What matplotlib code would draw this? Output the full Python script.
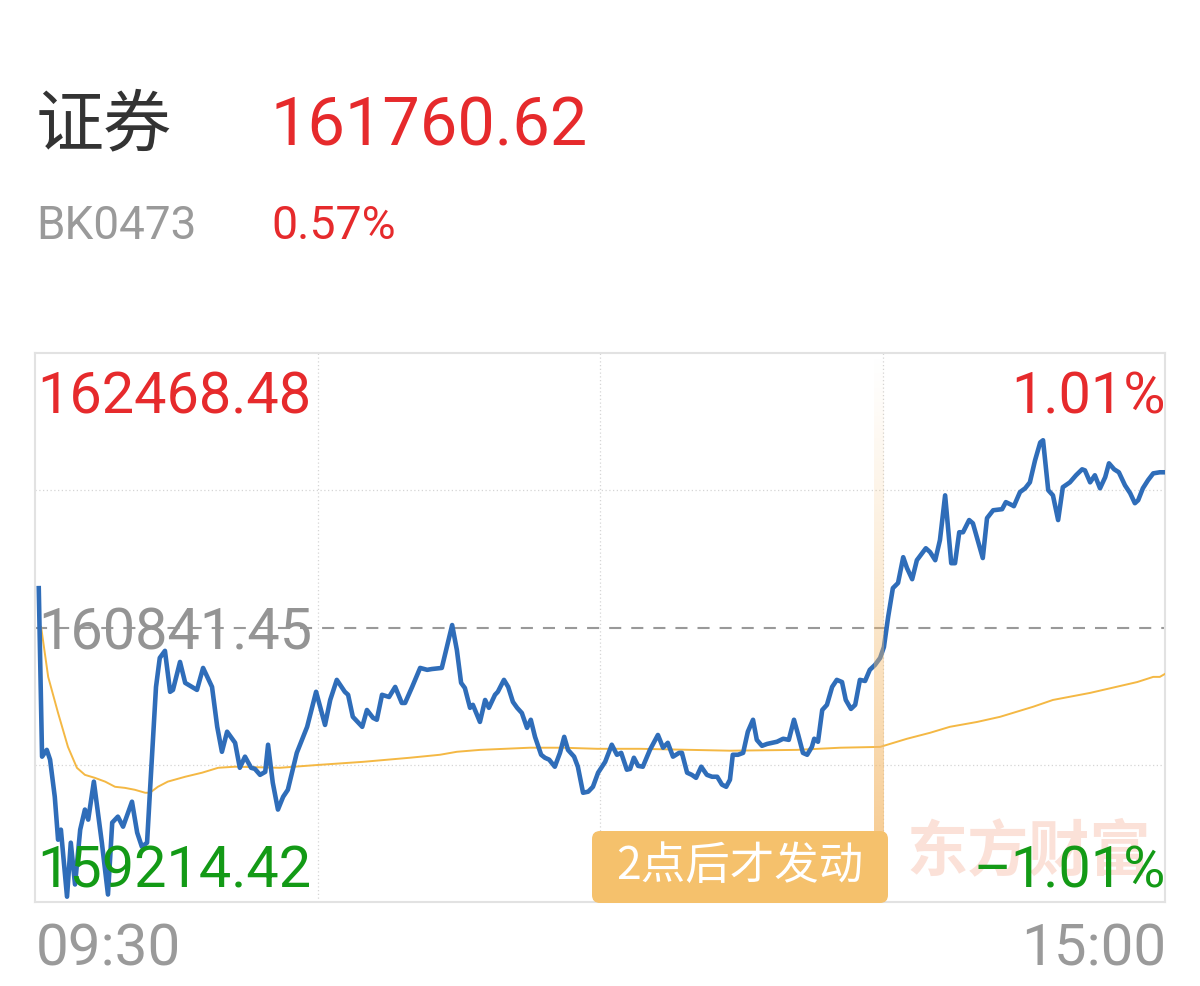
import numpy as np
import matplotlib
matplotlib.use("Agg")
import matplotlib.pyplot as plt
from matplotlib.patches import FancyBboxPatch
from matplotlib.colors import to_rgb

# ---------------- data ----------------
name = "证券"
code = "BK0473"
last_price = "161760.62"
change_pct = "0.57%"
prev_close = 160841.45
high_label = 162468.48
low_label = 159214.42
time_labels = ["09:30", "15:00"]
note_text = "2点后才发动"
watermark = "东方财富"

# minute index since 09:30 (0..240, lunch break removed) and % change vs prev close
price_min = [0.8, 1.5, 2.5, 3.2, 4.2, 4.9, 5.5, 6.8, 7.6, 8.5, 9.6, 10.6, 11.3, 12.5, 14.2, 15.5,
             16.4, 17.6, 18.7, 20.6, 21.7, 22.7, 23.8, 24.4, 25.7, 26.5, 27.6, 28.7, 29.3, 30.8,
             31.9, 34.4, 35.7, 37.6, 38.7, 39.7, 40.8, 42.5, 43.5, 44.6, 45.9, 46.7, 47.8, 48.9,
             49.5, 50.5, 51.6, 52.7, 53.7, 55.6, 57.8, 59.7, 61.6, 62.7, 64.1, 65.8, 66.5, 67.5,
             69.5, 70.5, 71.8, 72.6, 73.7, 75.2, 76.5, 77.9, 78.6, 80.1, 81.8, 83.3, 84.3, 86.4,
             88.6, 89.6, 90.5, 91.3, 92.4, 93.0, 94.5, 95.6, 96.4, 97.7, 98.3, 99.6, 100.5, 101.5,
             102.4, 103.4, 104.5, 105.3, 106.2, 107.5, 108.3, 109.2, 110.4, 111.5, 112.4, 113.2,
             114.5, 115.3, 116.4, 117.5, 118.5, 119.6, 121.1, 122.5, 123.6, 124.5, 125.7, 126.4,
             127.2, 128.1, 129.1, 130.6, 132.3, 133.4, 134.4, 135.5, 136.8, 137.4, 138.5, 139.5,
             140.4, 141.5, 142.7, 143.8, 144.9, 145.9, 146.8, 147.6, 148.2, 149.3, 150.4, 151.4,
             152.5, 153.3, 154.4, 155.5, 157.6, 158.9, 160.1, 161.2, 162.1, 163.1, 164.0, 165.0,
             165.5, 166.3, 167.2, 168.2, 169.3, 170.3, 171.4, 172.2, 173.3, 174.2, 175.2, 176.3,
             177.3, 178.4, 179.5, 180.3, 181.2, 182.2, 183.3, 184.4, 185.2, 186.3, 187.3, 189.2,
             190.1, 191.2, 192.2, 193.3, 194.6, 195.4, 196.3, 197.1, 198.4, 199.2, 201.3, 202.2,
             203.5, 205.4, 206.2, 207.5, 207.9, 209.2, 210.3, 211.3, 212.4, 213.5, 214.1, 215.2,
             216.2, 217.3, 218.3, 219.8, 221.1, 222.4, 223.0, 224.1, 225.1, 226.2, 227.3, 228.1,
             229.2, 230.2, 231.5, 232.6, 233.6, 234.3, 235.3, 236.4, 237.5, 238.9, 240.0]
price_pct = [0.145, -0.476, -0.451, -0.487, -0.624, -0.782, -0.745, -0.992, -0.793, -0.947, -0.745,
             -0.671, -0.708, -0.568, -0.793, -0.984, -0.719, -0.697, -0.734, -0.642, -0.756, -0.808,
             -0.793, -0.609, -0.219, -0.112, -0.086, -0.237, -0.230, -0.127, -0.204, -0.230, -0.149,
             -0.219, -0.366, -0.458, -0.384, -0.425, -0.517, -0.476, -0.517, -0.521, -0.543, -0.532,
             -0.432, -0.572, -0.671, -0.624, -0.598, -0.462, -0.366, -0.237, -0.359, -0.267, -0.193,
             -0.237, -0.248, -0.329, -0.366, -0.304, -0.333, -0.340, -0.248, -0.256, -0.219, -0.278,
             -0.278, -0.219, -0.149, -0.156, -0.153, -0.149, 0.009, -0.083, -0.204, -0.223, -0.296,
             -0.285, -0.348, -0.267, -0.296, -0.248, -0.237, -0.193, -0.219, -0.274, -0.296, -0.315,
             -0.370, -0.340, -0.403, -0.469, -0.480, -0.487, -0.513, -0.462, -0.403, -0.451, -0.476,
             -0.513, -0.609, -0.605, -0.587, -0.535, -0.495, -0.432, -0.469, -0.462, -0.524, -0.521,
             -0.480, -0.510, -0.513, -0.451, -0.396, -0.443, -0.425, -0.476, -0.462, -0.462, -0.535,
             -0.543, -0.554, -0.513, -0.543, -0.550, -0.550, -0.579, -0.587, -0.561, -0.469, -0.469,
             -0.462, -0.384, -0.340, -0.414, -0.436, -0.429, -0.421, -0.410, -0.414, -0.340, -0.396,
             -0.462, -0.469, -0.440, -0.410, -0.421, -0.304, -0.285, -0.219, -0.193, -0.201, -0.267,
             -0.300, -0.285, -0.193, -0.197, -0.156, -0.138, -0.112, -0.072, 0.039, 0.145, 0.164,
             0.259, 0.219, 0.178, 0.248, 0.292, 0.278, 0.248, 0.322, 0.487, 0.237, 0.237, 0.351,
             0.351, 0.396, 0.384, 0.256, 0.403, 0.432, 0.436, 0.462, 0.451, 0.447, 0.499, 0.513,
             0.535, 0.616, 0.682, 0.690, 0.506, 0.487, 0.396, 0.517, 0.535, 0.561, 0.583, 0.579,
             0.535, 0.561, 0.513, 0.554, 0.605, 0.583, 0.572, 0.524, 0.495, 0.458, 0.469, 0.513,
             0.543, 0.568, 0.572, 0.572]

avg_min = [1.3, 2.8, 4.9, 7.0, 8.9, 10.6, 12.7, 14.9, 17.0, 19.1, 21.2, 23.4, 24.4, 26.1, 28.2,
           31.9, 35.5, 38.9, 42.5, 52.0, 60.5, 69.7, 79.6, 86.0, 89.6, 94.5, 105.1, 112.1, 119.4,
           128.5, 147.6, 161.8, 171.0, 179.5, 185.2, 190.1, 194.3, 200.1, 205.0, 212.0, 216.2,
           224.1, 234.1, 237.5, 238.9, 240.0]
avg_pct = [0.002, -0.182, -0.315, -0.440, -0.517, -0.543, -0.554, -0.568, -0.587, -0.591, -0.598,
           -0.609, -0.609, -0.587, -0.568, -0.550, -0.535, -0.517, -0.513, -0.517, -0.506, -0.495,
           -0.480, -0.469, -0.458, -0.451, -0.443, -0.443, -0.447, -0.447, -0.454, -0.451, -0.443,
           -0.440, -0.410, -0.388, -0.366, -0.348, -0.329, -0.292, -0.267, -0.241, -0.201, -0.182,
           -0.182, -0.171]

highlight_span = (178.3, 180.4)   # around 14:00

# ---------------- style ----------------
RED = "#E62A2C"
GREEN = "#139A16"
GREY = "#9A9A9A"
BLUE = "#2F6DB9"
YELLOW = "#F4B844"
ORANGE = "#F5C16C"
NUM_FONT = ["Roboto", "DejaVu Sans"]
CJK_FONT = ["Noto Sans CJK SC", "DejaVu Sans"]

W, H = 1200, 986
fig = plt.figure(figsize=(W / 100, H / 100), dpi=100)
fig.patch.set_facecolor("white")

L, R, T, B = 35, 1165, 353, 902
ax = fig.add_axes([L / W, (H - B) / H, (R - L) / W, (B - T) / H])

lim = (high_label / prev_close - 1) * 100
ax.set_xlim(0, 240)
ax.set_ylim(-lim, lim)
ax.set_xticks([])
ax.set_yticks([])
for s in ax.spines.values():
    s.set_color("#E2E2E2")
    s.set_linewidth(1.5)

# grid
for gx in (60, 120, 180):
    ax.axvline(gx, color="#D5D5D5", lw=0.9, ls=(0, (1, 2)), zorder=1)
for gy in (lim / 2, -lim / 2):
    ax.axhline(gy, color="#D5D5D5", lw=0.9, ls=(0, (1, 2)), zorder=1)
ax.axhline(0, color="#999999", lw=1.5, ls=(0, (5.8, 4.8)), zorder=2)

# lines
ax.plot(avg_min, avg_pct, color=YELLOW, lw=1.4, zorder=3, solid_joinstyle="round")
ax.plot(price_min, price_pct, color=BLUE, lw=3.3, zorder=3, solid_joinstyle="round")

# highlight band with vertical gradient (transparent at top, solid at bottom)
rgb = np.array(to_rgb("#F4BB6E"))
n = 256
alpha = np.linspace(0.0, 1.0, n) ** 1.2 * 0.85
grad = np.zeros((n, 1, 4))
grad[:, 0, :3] = rgb
grad[:, 0, 3] = alpha
ax.imshow(grad, extent=[highlight_span[0], highlight_span[1], -lim, lim], aspect="auto",
          origin="upper", zorder=4, interpolation="bilinear")
ax.set_xlim(0, 240)
ax.set_ylim(-lim, lim)

# watermark
fig.text(1029 / W, (H - 852) / H, watermark, color="#FBE1D8", fontsize=44, fontweight="bold",
         family=CJK_FONT, ha="center", va="center", zorder=1)

# note box
box = FancyBboxPatch((5.92, (H - 903) / 100), 2.96, 0.72,
                     boxstyle="round,pad=0,rounding_size=0.08",
                     transform=fig.dpi_scale_trans, facecolor=ORANGE, edgecolor="none",
                     zorder=10)
fig.patches.append(box)
fig.text(740 / W, (H - 866) / H, note_text, color="white", fontsize=32, family=CJK_FONT,
         ha="center", va="center", zorder=11)

# in-plot labels
def ptext(x, ybase, s, color, ha="left"):
    fig.text(x / W, (H - ybase) / H, s, color=color, fontsize=41.5, family=NUM_FONT,
             ha=ha, va="baseline", zorder=12)

ptext(37, 414, f"{high_label:.2f}", RED)
ptext(1166, 414, f"{lim:.2f}%", RED, ha="right")
ptext(38, 650, f"{prev_close:.2f}", "#949494")
ptext(37, 888, f"{low_label:.2f}", GREEN)
ptext(1166, 888, f"\u2013{lim:.2f}%", GREEN, ha="right")

# header
fig.text(36 / W, (H - 145) / H, name, color="#333333", fontsize=49, family=CJK_FONT,
         ha="left", va="baseline")
fig.text(270 / W, (H - 146) / H, last_price, color=RED, fontsize=48, family=NUM_FONT,
         ha="left", va="baseline")
fig.text(36 / W, (H - 239) / H, code, color=GREY, fontsize=33, family=NUM_FONT,
         ha="left", va="baseline")
fig.text(271 / W, (H - 239) / H, change_pct, color=RED, fontsize=33.5, family=NUM_FONT,
         ha="left", va="baseline")

# time labels
fig.text(36 / W, (H - 966) / H, time_labels[0], color=GREY, fontsize=42, family=NUM_FONT,
         ha="left", va="baseline")
fig.text(1166 / W, (H - 966) / H, time_labels[1], color=GREY, fontsize=42, family=NUM_FONT,
         ha="right", va="baseline")

fig.savefig("out.png", dpi=100)
